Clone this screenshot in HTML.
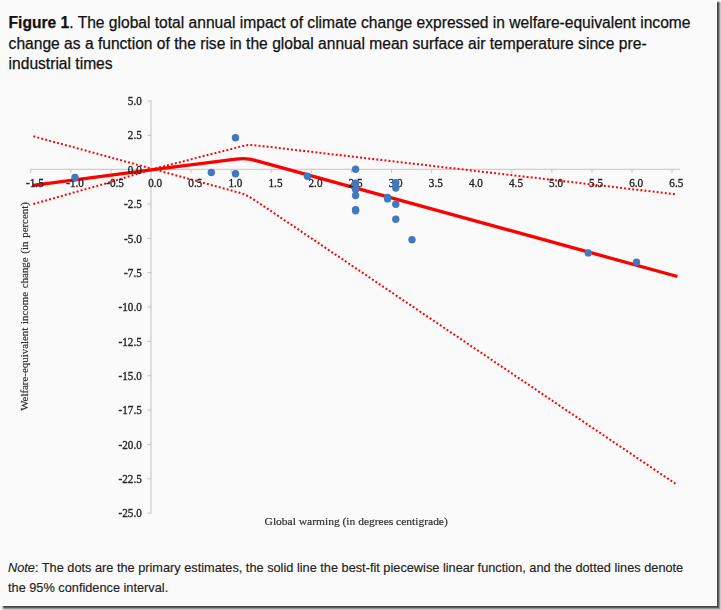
<!DOCTYPE html>
<html><head><meta charset="utf-8"><title>Figure 1</title>
<style>
html,body{margin:0;padding:0;}
body{width:721px;height:610px;overflow:hidden;background:#fff;position:relative;font-family:"Liberation Sans",sans-serif;}
#card{position:absolute;left:0;top:0;width:716px;height:605px;background:#fafafa;}
#sh{position:absolute;left:0;top:0;width:721px;height:610px;}
.t{position:absolute;white-space:nowrap;color:#111;-webkit-text-stroke:0.25px #111;}
.tl{left:8.6px;font-size:15.6px;line-height:20px;}
#note{left:8px;top:557.5px;font-size:12.75px;line-height:20.75px;color:#222;-webkit-text-stroke:0.15px #222;}
svg text{font-family:"Liberation Serif",serif;font-size:12.3px;fill:#262626;stroke:#262626;stroke-width:0.36px;}
</style></head><body>
<div id="card"></div>

<svg id="sh" width="721" height="610" viewBox="0 0 721 610">
<g shape-rendering="crispEdges">
<rect x="717" y="3" width="4" height="607" fill="#c8c8c8"/>
<rect x="4" y="606" width="717" height="4" fill="#c8c8c8"/>
<rect x="717" y="3" width="3" height="606" fill="#969696"/>
<rect x="4" y="606" width="716" height="3" fill="#969696"/>
<rect x="717" y="3" width="2" height="605" fill="#606060"/>
<rect x="4" y="606" width="715" height="2" fill="#606060"/>
<rect x="717" y="3" width="1" height="604" fill="#424242"/>
<rect x="4" y="606" width="714" height="1" fill="#424242"/>
<rect x="717" y="0" width="1" height="1" fill="#f2f2f2"/>
<rect x="718" y="0" width="1" height="1" fill="#f4f4f4"/>
<rect x="719" y="0" width="1" height="1" fill="#f8f8f8"/>
<rect x="720" y="0" width="1" height="1" fill="#fbfbfb"/>
<rect x="717" y="1" width="1" height="1" fill="#c1c1c1"/>
<rect x="718" y="1" width="1" height="1" fill="#cbcbcb"/>
<rect x="719" y="1" width="1" height="1" fill="#dcdcdc"/>
<rect x="720" y="1" width="1" height="1" fill="#ededed"/>
<rect x="717" y="2" width="1" height="1" fill="#686868"/>
<rect x="718" y="2" width="1" height="1" fill="#808080"/>
<rect x="719" y="2" width="1" height="1" fill="#ababab"/>
<rect x="720" y="2" width="1" height="1" fill="#d3d3d3"/>
<rect x="0" y="606" width="1" height="1" fill="#f0f0f0"/>
<rect x="0" y="607" width="1" height="1" fill="#f2f2f2"/>
<rect x="0" y="608" width="1" height="1" fill="#f7f7f7"/>
<rect x="0" y="609" width="1" height="1" fill="#fbfbfb"/>
<rect x="1" y="606" width="1" height="1" fill="#ececec"/>
<rect x="1" y="607" width="1" height="1" fill="#efefef"/>
<rect x="1" y="608" width="1" height="1" fill="#f4f4f4"/>
<rect x="1" y="609" width="1" height="1" fill="#fafafa"/>
<rect x="2" y="606" width="1" height="1" fill="#b7b7b7"/>
<rect x="2" y="607" width="1" height="1" fill="#c3c3c3"/>
<rect x="2" y="608" width="1" height="1" fill="#d7d7d7"/>
<rect x="2" y="609" width="1" height="1" fill="#eaeaea"/>
<rect x="3" y="606" width="1" height="1" fill="#646464"/>
<rect x="3" y="607" width="1" height="1" fill="#7d7d7d"/>
<rect x="3" y="608" width="1" height="1" fill="#a9a9a9"/>
<rect x="3" y="609" width="1" height="1" fill="#d2d2d2"/>
</g>
<defs><filter id="soft" x="0" y="0" width="721" height="610" filterUnits="userSpaceOnUse"><feGaussianBlur stdDeviation="0.45"/></filter></defs><g filter="url(#soft)">
<g fill="#c4c4c4">
<rect x="30.2" y="168.80" width="650" height="1"/>
<rect x="150.50" y="100.5" width="1" height="413.2"/>
<rect x="30.25" y="169.30" width="1" height="3.6"/>
<rect x="70.33" y="169.30" width="1" height="3.6"/>
<rect x="110.41" y="169.30" width="1" height="3.6"/>
<rect x="150.50" y="169.30" width="1" height="3.6"/>
<rect x="190.59" y="169.30" width="1" height="3.6"/>
<rect x="230.67" y="169.30" width="1" height="3.6"/>
<rect x="270.75" y="169.30" width="1" height="3.6"/>
<rect x="310.84" y="169.30" width="1" height="3.6"/>
<rect x="350.93" y="169.30" width="1" height="3.6"/>
<rect x="391.01" y="169.30" width="1" height="3.6"/>
<rect x="431.10" y="169.30" width="1" height="3.6"/>
<rect x="471.18" y="169.30" width="1" height="3.6"/>
<rect x="511.26" y="169.30" width="1" height="3.6"/>
<rect x="551.35" y="169.30" width="1" height="3.6"/>
<rect x="591.43" y="169.30" width="1" height="3.6"/>
<rect x="631.52" y="169.30" width="1" height="3.6"/>
<rect x="671.61" y="169.30" width="1" height="3.6"/>
<rect x="147.40" y="100.50" width="3.6" height="1"/>
<rect x="147.40" y="134.84" width="3.6" height="1"/>
<rect x="147.40" y="169.18" width="3.6" height="1"/>
<rect x="147.40" y="203.52" width="3.6" height="1"/>
<rect x="147.40" y="237.86" width="3.6" height="1"/>
<rect x="147.40" y="272.20" width="3.6" height="1"/>
<rect x="147.40" y="306.54" width="3.6" height="1"/>
<rect x="147.40" y="340.88" width="3.6" height="1"/>
<rect x="147.40" y="375.22" width="3.6" height="1"/>
<rect x="147.40" y="409.56" width="3.6" height="1"/>
<rect x="147.40" y="443.90" width="3.6" height="1"/>
<rect x="147.40" y="478.24" width="3.6" height="1"/>
<rect x="147.40" y="512.58" width="3.6" height="1"/>
</g>
<g stroke="#ff0000" fill="none" stroke-width="2.05" stroke-dasharray="1.9 2.19">
<path d="M33.4,136.3 L239,192.6 Q246.6,194.7 253.5,199.3 L676,484.1"/>
<path d="M33.4,204 L105,183.7 L151,169.6 L200,157 L241,146.4 Q249,144.2 257,145.5 L677,194.4"/>
</g>
<path d="M33,185.3 L151,169.8 L234,159.4 Q246,157.5 256,160.6 L677.4,276.5" stroke="#ff0000" stroke-width="3.35" fill="none" stroke-linejoin="round"/>
<text transform="translate(141.8,105.1) scale(0.91,1)" text-anchor="end">5.0</text>
<text transform="translate(141.8,139.4) scale(0.91,1)" text-anchor="end">2.5</text>
<text transform="translate(141.8,173.8) scale(0.91,1)" text-anchor="end">0.0</text>
<text transform="translate(141.8,208.1) scale(0.91,1)" text-anchor="end">-2.5</text>
<text transform="translate(141.8,242.5) scale(0.91,1)" text-anchor="end">-5.0</text>
<text transform="translate(141.8,276.8) scale(0.91,1)" text-anchor="end">-7.5</text>
<text transform="translate(141.8,311.1) scale(0.91,1)" text-anchor="end">-10.0</text>
<text transform="translate(141.8,345.5) scale(0.91,1)" text-anchor="end">-12.5</text>
<text transform="translate(141.8,379.8) scale(0.91,1)" text-anchor="end">-15.0</text>
<text transform="translate(141.8,414.2) scale(0.91,1)" text-anchor="end">-17.5</text>
<text transform="translate(141.8,448.5) scale(0.91,1)" text-anchor="end">-20.0</text>
<text transform="translate(141.8,482.8) scale(0.91,1)" text-anchor="end">-22.5</text>
<text transform="translate(141.8,517.2) scale(0.91,1)" text-anchor="end">-25.0</text>
<text transform="translate(34.9,186.8) scale(0.91,1)" text-anchor="middle">-1.5</text>
<text transform="translate(75.0,186.8) scale(0.91,1)" text-anchor="middle">-1.0</text>
<text transform="translate(115.1,186.8) scale(0.91,1)" text-anchor="middle">-0.5</text>
<text transform="translate(155.2,186.8) scale(0.91,1)" text-anchor="middle">0.0</text>
<text transform="translate(195.3,186.8) scale(0.91,1)" text-anchor="middle">0.5</text>
<text transform="translate(235.4,186.8) scale(0.91,1)" text-anchor="middle">1.0</text>
<text transform="translate(275.5,186.8) scale(0.91,1)" text-anchor="middle">1.5</text>
<text transform="translate(315.5,186.8) scale(0.91,1)" text-anchor="middle">2.0</text>
<text transform="translate(355.6,186.8) scale(0.91,1)" text-anchor="middle">2.5</text>
<text transform="translate(395.7,186.8) scale(0.91,1)" text-anchor="middle">3.0</text>
<text transform="translate(435.8,186.8) scale(0.91,1)" text-anchor="middle">3.5</text>
<text transform="translate(475.9,186.8) scale(0.91,1)" text-anchor="middle">4.0</text>
<text transform="translate(516.0,186.8) scale(0.91,1)" text-anchor="middle">4.5</text>
<text transform="translate(556.1,186.8) scale(0.91,1)" text-anchor="middle">5.0</text>
<text transform="translate(596.1,186.8) scale(0.91,1)" text-anchor="middle">5.5</text>
<text transform="translate(636.2,186.8) scale(0.91,1)" text-anchor="middle">6.0</text>
<text transform="translate(676.3,186.8) scale(0.91,1)" text-anchor="middle">6.5</text>
<text transform="translate(356.2,524.9) scale(1.01,1)" text-anchor="middle" style="font-size:11.4px;stroke-width:0.2px;fill:#303030;stroke:#303030">Global warming (in degrees centigrade)</text>
<text transform="translate(28.1,306.5) rotate(-90)" text-anchor="middle" word-spacing="1" style="font-size:10.9px;stroke-width:0.2px;fill:#303030;stroke:#303030">Welfare-equivalent income change (in percent)</text>
<g fill="#4278be">
<circle cx="75" cy="177.5" r="3.7"/>
<circle cx="211.3" cy="172.5" r="3.7"/>
<circle cx="235.5" cy="137.8" r="3.7"/>
<circle cx="235.5" cy="173.7" r="3.7"/>
<circle cx="307.5" cy="176.3" r="3.7"/>
<circle cx="355.6" cy="169.3" r="3.7"/>
<circle cx="355.6" cy="183.3" r="3.7"/>
<circle cx="355.6" cy="189.5" r="3.7"/>
<circle cx="355.6" cy="195.5" r="3.7"/>
<circle cx="355.6" cy="209.6" r="3.7"/>
<circle cx="355.6" cy="210.8" r="3.7"/>
<circle cx="387.6" cy="197.5" r="3.7"/>
<circle cx="387.6" cy="198.9" r="3.7"/>
<circle cx="395.8" cy="182.8" r="3.7"/>
<circle cx="395.8" cy="188.1" r="3.7"/>
<circle cx="395.8" cy="204.3" r="3.7"/>
<circle cx="395.8" cy="219.2" r="3.7"/>
<circle cx="412" cy="239.8" r="3.7"/>
<circle cx="588.3" cy="252.9" r="3.7"/>
<circle cx="636.5" cy="262.1" r="3.7"/>
</g>
</g>
</svg>
<div class="t tl" style="top:13.4px"><b>Figure 1</b>. The global total annual impact of climate change expressed in welfare-equivalent income</div>
<div class="t tl" style="top:34.4px">change as a function of the rise in the global annual mean surface air temperature since pre-</div>
<div class="t tl" style="top:54.4px">industrial times</div>
<div class="t" id="note"><i>Note</i>: The dots are the primary estimates, the solid line the best-fit piecewise linear function, and the dotted lines denote<br>the 95% confidence interval.</div>
</body></html>
